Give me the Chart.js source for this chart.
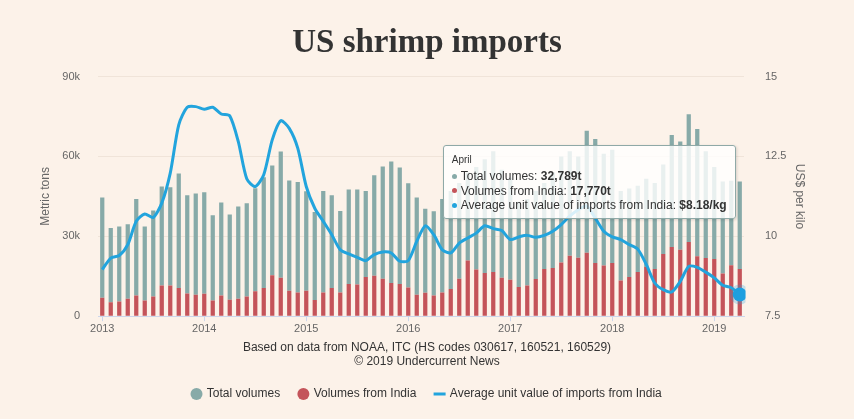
<!DOCTYPE html>
<html>
<head>
<meta charset="utf-8">
<script src="https://cdn.jsdelivr.net/npm/chart.js@4.4.1/dist/chart.umd.min.js"></script>
<style>
html, body { margin: 0; padding: 0; background: #fcf2e9; }
#wrap { position: relative; width: 854px; height: 419px; }
#tip {
    position: absolute; display: none; white-space: nowrap;
    background: rgba(255,255,255,0.82); border: 1px solid #8fa9a7; border-radius: 3px;
    box-shadow: 1px 1px 3px rgba(0,0,0,0.15);
    padding: 8px 8px 5px 8px; color: #333;
    font-family: 'Liberation Sans', Arial, sans-serif; font-size: 12px;
}
#tip .head { font-size: 10px; line-height: 12px; margin-bottom: 3px; }
#tip .row { line-height: 14.5px; }
#tip .dot { display: inline-block; width: 5px; height: 5px; border-radius: 50%; margin: 0 4px 2px 0; vertical-align: middle; }
</style>
</head>
<body>
<div id="wrap">
    <canvas id="myChart" width="854" height="419"></canvas>
    <div id="tip"></div>
</div>
<script>
const years = ['2013', '2014', '2015', '2016', '2017', '2018', '2019'];
const months = ['January', 'February', 'March', 'April', 'May', 'June', 'July', 'August', 'September', 'October', 'November', 'December'];

// monthly, thousand tonnes (rest of the stack above India)
const totalVolumes = [
    37.7, 27.9, 28.2, 27.9, 36.2, 27.8, 32.3, 37.2, 36.9, 43.0, 36.9, 38.0,
    38.2, 32.0, 34.9, 32.0, 34.6, 35.0, 38.7, 41.6, 41.2, 47.5, 41.4, 41.5,
    37.3, 33.0, 38.1, 34.8, 30.6, 35.5, 35.7, 32.3, 37.7, 42.1, 45.6, 43.8,
    39.1, 36.5, 31.6, 31.6, 35.1, 36.8, 35.9, 33.1, 38.5, 42.8, 45.4, 40.6,
    38.3, 32.0, 32.5, 33.0, 32.3, 35.9, 39.8, 39.3, 38.0, 45.9, 46.6, 42.0,
    42.5, 33.6, 33.3, 32.4, 33.1, 32.3, 33.6, 42.1, 40.6, 48.0, 47.8, 40.1,
    34.5, 34.6, 31.8, 32.789
];
const indiaVolumes = [
    6.9, 5.2, 5.5, 6.6, 7.8, 5.9, 7.4, 11.5, 11.5, 10.6, 8.5, 8.1,
    8.4, 5.9, 7.8, 6.2, 6.6, 7.4, 9.4, 10.6, 15.4, 14.4, 9.6, 8.9,
    9.6, 6.1, 8.9, 10.6, 8.9, 12.1, 11.9, 14.7, 15.2, 14.1, 12.5, 12.1,
    10.8, 8.1, 8.8, 7.8, 8.9, 10.2, 14.1, 20.9, 17.5, 16.2, 16.6, 14.4,
    13.7, 11.0, 11.5, 14.0, 17.7, 18.1, 20.2, 22.7, 22.0, 23.8, 20.0, 19.0,
    20.0, 13.4, 14.7, 16.6, 18.5, 17.7, 23.4, 26.0, 25.0, 27.9, 22.5, 21.9,
    21.5, 16.0, 19.1, 17.77
];
// US$ per kg
const unitValue = [
    8.96, 9.32, 9.40, 9.74, 10.47, 10.70, 10.59, 11.04, 11.98, 13.49, 14.04, 14.06,
    13.98, 14.04, 13.83, 13.77, 12.97, 11.80, 11.56, 11.93, 13.02, 13.62, 13.38, 12.76,
    11.56, 10.88, 10.47, 10.05, 9.58, 9.45, 9.34, 9.24, 9.43, 9.51, 9.48, 9.22,
    9.24, 9.84, 10.33, 10.05, 9.58, 9.48, 9.79, 9.95, 10.10, 10.33, 10.24, 10.18,
    9.90, 9.98, 10.03, 9.97, 10.03, 10.16, 10.37, 10.63, 10.83, 10.95, 10.57, 10.16,
    9.98, 9.90, 9.74, 9.60, 9.12, 8.54, 8.33, 8.26, 8.59, 9.06, 9.03, 8.88,
    8.70, 8.47, 8.39, 8.18
];
const leftTicks = ['0', '30k', '60k', '90k'];
const rightTicks = ['7.5', '10', '12.5', '15'];

const labels = [];
for (let i = 0; i < totalVolumes.length; i++) {
    labels.push(months[i % 12] + ' ' + years[Math.floor(i / 12)]);
}

const teal = '#87aaa8';
const red = '#c4545a';
const blue = '#22a4dd';
const hoverIndex = totalVolumes.length - 1;

Chart.defaults.font.family = "'Liberation Sans', Arial, sans-serif";
Chart.defaults.color = '#666';

function fmtT(v) {
    return Math.round(v * 1000).toLocaleString('en-US') + 't';
}

function drawTip(context) {
    const tip = document.getElementById('tip');
    const t = context.tooltip;
    if (t.opacity === 0 || !t.dataPoints || !t.dataPoints.length) {
        tip.style.display = 'none';
        return;
    }
    const i = t.dataPoints[0].dataIndex;
    const ch = context.chart;
    tip.innerHTML =
        '<div class="head">' + months[i % 12] + '</div>' +
        '<div class="row"><span class="dot" style="background:' + teal + '"></span>Total volumes: <b>' + fmtT(totalVolumes[i]) + '</b></div>' +
        '<div class="row"><span class="dot" style="background:' + red + '"></span>Volumes from India: <b>' + fmtT(indiaVolumes[i]) + '</b></div>' +
        '<div class="row"><span class="dot" style="background:' + blue + '"></span>Average unit value of imports from India: <b>$' + unitValue[i].toFixed(2) + '/kg</b></div>';
    tip.style.display = 'block';
    const px = ch.scales.x.getPixelForValue(i);
    const py = ch.scales.y1.getPixelForValue(unitValue[i]);
    tip.style.left = (px - tip.offsetWidth - 4) + 'px';
    tip.style.top = (py - 149) + 'px';
}

const ctx = document.getElementById('myChart');
const chart = new Chart(ctx, {
    data: {
        labels: labels,
        datasets: [
            {
                type: 'bar',
                label: 'Volumes from India',
                data: indiaVolumes,
                backgroundColor: red,
                hoverBackgroundColor: red,
                yAxisID: 'y',
                categoryPercentage: 1,
                barPercentage: 0.5,
                order: 1
            },
            {
                type: 'bar',
                label: 'Total volumes',
                data: totalVolumes,
                backgroundColor: teal,
                hoverBackgroundColor: teal,
                yAxisID: 'y',
                categoryPercentage: 1,
                barPercentage: 0.5,
                order: 1
            },
            {
                type: 'line',
                label: 'Average unit value of imports from India',
                data: unitValue,
                borderColor: blue,
                backgroundColor: blue,
                borderWidth: 3,
                tension: 0.25,
                pointRadius: 0,
                pointHoverRadius: 7,
                pointHoverBackgroundColor: '#1e9fe0',
                pointHoverBorderColor: 'rgba(30,159,224,0.25)',
                pointHoverBorderWidth: 6,
                yAxisID: 'y1',
                order: 0
            }
        ]
    },
    options: {
        responsive: false,
        animation: false,
        events: [],
        layout: { padding: { left: 0, right: 0, top: 0, bottom: 9 } },
        plugins: {
            title: {
                display: true,
                text: 'US shrimp imports',
                color: '#333',
                font: { family: "'Liberation Serif', 'DejaVu Serif', serif", size: 33, weight: 'bold' },
                padding: { top: 24, bottom: 13 }
            },
            subtitle: {
                display: true,
                position: 'bottom',
                text: ['Based on data from NOAA, ITC (HS codes 030617, 160521, 160529)', '\u00a9 2019 Undercurrent News'],
                color: '#333',
                font: { size: 12 },
                padding: { top: 2, bottom: 0 },
                weight: 100
            },
            legend: {
                position: 'bottom',
                weight: 3000,
                labels: {
                    usePointStyle: true,
                    boxWidth: 8.5,
                    boxHeight: 8.5,
                    padding: 19,
                    color: '#333',
                    font: { size: 12 },
                    sort: function(a, b) {
                        const rank = [1, 0, 2];
                        return rank[a.datasetIndex] - rank[b.datasetIndex];
                    },
                    generateLabels: function(c) {
                        const items = Chart.defaults.plugins.legend.labels.generateLabels(c);
                        items.forEach(function(it) {
                            if (it.datasetIndex === 2) {
                                it.pointStyle = 'line';
                                it.lineWidth = 3;
                                it.strokeStyle = blue;
                            } else {
                                it.pointStyle = 'circle';
                                it.lineWidth = 0;
                            }
                        });
                        return items;
                    }
                }
            },
            tooltip: {
                enabled: false,
                mode: 'index',
                intersect: false,
                external: drawTip
            }
        },
        scales: {
            x: {
                stacked: true,
                offset: true,
                afterFit: function(s) { s.height = 22; },
                grid: { display: true, offset: false, drawOnChartArea: false, drawTicks: true, tickLength: 5, color: '#ccd6eb' },
                border: { display: true, color: '#ccd6eb' },
                ticks: {
                    autoSkip: false,
                    maxRotation: 0,
                    padding: 1,
                    color: '#666',
                    font: { size: 11 },
                    callback: function(value, index) {
                        return index % 12 === 0 ? years[index / 12] : null;
                    }
                }
            },
            y: {
                stacked: true,
                position: 'left',
                min: 0,
                max: 90,
                afterFit: function(s) { s.width = 98; },
                afterBuildTicks: function(s) {
                    s.ticks = [0, 30, 60, 90].map(function(v) { return { value: v }; });
                },
                grid: { color: 'rgba(120,90,60,0.09)', drawTicks: false },
                border: { display: false },
                ticks: {
                    padding: 18,
                    color: '#666',
                    font: { size: 11 },
                    callback: function(value) { return leftTicks[Math.round(value / 30)]; }
                },
                title: {
                    display: true,
                    text: 'Metric tons',
                    color: '#666',
                    font: { size: 12 },
                    padding: { top: 38, bottom: 0 }
                }
            },
            y1: {
                position: 'right',
                min: 7.5,
                max: 15,
                afterFit: function(s) { s.width = 110; },
                afterBuildTicks: function(s) {
                    s.ticks = [7.5, 10, 12.5, 15].map(function(v) { return { value: v }; });
                },
                grid: { display: false, drawOnChartArea: false },
                border: { display: false },
                ticks: {
                    padding: 13,
                    color: '#666',
                    font: { size: 11 },
                    callback: function(value) { return rightTicks[Math.round((value - 7.5) / 2.5)]; }
                },
                title: {
                    display: true,
                    text: 'US$ per kilo',
                    color: '#666',
                    font: { size: 12 },
                    padding: { top: 47, bottom: 0 }
                }
            }
        }
    }
});

const active = [
    { datasetIndex: 1, index: hoverIndex },
    { datasetIndex: 0, index: hoverIndex },
    { datasetIndex: 2, index: hoverIndex }
];
chart.setActiveElements([{ datasetIndex: 2, index: hoverIndex }]);
chart.tooltip.setActiveElements(active, {
    x: chart.scales.x.getPixelForValue(hoverIndex),
    y: chart.scales.y1.getPixelForValue(unitValue[hoverIndex])
});
chart.update();
</script>
</body>
</html>
